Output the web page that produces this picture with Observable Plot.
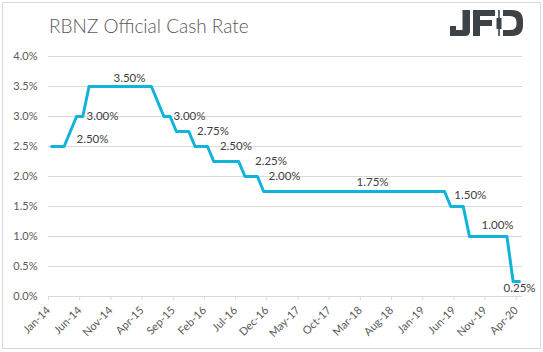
<!DOCTYPE html>
<html>
<head>
<meta charset="utf-8">
<script src="https://cdn.jsdelivr.net/npm/d3@7"></script>
<script src="https://cdn.jsdelivr.net/npm/@observablehq/plot@0.6"></script>
<style>
  html, body { margin: 0; padding: 0; background: #fff; }
  #wrap { position: relative; width: 543px; height: 352px; overflow: hidden; font-family: Lato, "Open Sans", sans-serif; }
  #frame { position: absolute; left: 2px; top: 2px; width: 537px; height: 345px; border: 1px solid #d9d9d9; pointer-events: none; }
  #title { position: absolute; left: 49px; top: 14px; font-size: 19px; font-weight: 300; color: #595959; line-height: 24px; white-space: nowrap; }
  #logo { position: absolute; left: 440px; top: 4px; }
  #chart { position: absolute; left: 0; top: 0; }
</style>
</head>
<body>
<div id="wrap">
  <div id="chart"></div>
  <div id="title">RBNZ Official Cash Rate</div>
  <svg id="logo" width="90" height="40" viewBox="440 4 90 40" fill="#3d4247">
    <!-- J -->
    <path d="M462.5,10 H470 V31 Q470,36 465,36 H450 V26 H456 V30 H462.5 Z"/>
    <!-- F -->
    <path d="M473,10 H495 V16 H480 V20 H492 V26 H480 V36 H473 Z"/>
    <!-- D with candle -->
    <line x1="499" y1="10" x2="499" y2="36" stroke="#3d4247" stroke-width="1.6"/>
    <rect x="496.5" y="18" width="5" height="11"/>
    <path d="M503,10 H512 Q523,10 523,21 V25 Q523,36 512,36 H503 V30 H510 Q516.5,30 516.5,24 V22 Q516.5,16 510,16 H503 Z"/>
  </svg>
  <div id="frame"></div>
</div>
<script>
// Monthly RBNZ OCR, Jan-14 ... Apr-20 (one value per month)
const rates = [
  2.50, 2.50, 2.50, 2.75, 3.00, 3.00,                   // Jan-14 .. Jun-14
  3.50, 3.50, 3.50, 3.50, 3.50, 3.50,                   // Jul-14 .. Dec-14
  3.50, 3.50, 3.50, 3.50, 3.50, 3.25,                   // Jan-15 .. Jun-15
  3.00, 3.00, 2.75, 2.75, 2.75, 2.50,                   // Jul-15 .. Dec-15
  2.50, 2.50, 2.25, 2.25, 2.25, 2.25,                   // Jan-16 .. Jun-16
  2.25, 2.00, 2.00, 2.00, 1.75, 1.75,                   // Jul-16 .. Dec-16
  1.75, 1.75, 1.75, 1.75, 1.75, 1.75,                   // 2017 H1
  1.75, 1.75, 1.75, 1.75, 1.75, 1.75,                   // 2017 H2
  1.75, 1.75, 1.75, 1.75, 1.75, 1.75,                   // 2018 H1
  1.75, 1.75, 1.75, 1.75, 1.75, 1.75,                   // 2018 H2
  1.75, 1.75, 1.75, 1.75, 1.50, 1.50,                   // Jan-19 .. Jun-19
  1.50, 1.00, 1.00, 1.00, 1.00, 1.00,                   // Jul-19 .. Dec-19
  1.00, 1.00, 0.25, 0.25                                // Jan-20 .. Apr-20
];

// X tick labels (every 5 months) and their month index from Jan-14
const tickLabels = ["Jan-14","Jun-14","Nov-14","Apr-15","Sep-15","Feb-16","Jul-16","Dec-16",
                    "May-17","Oct-17","Mar-18","Aug-18","Jan-19","Jun-19","Nov-19","Apr-20"];
const tickMonths = [0,5,10,15,20,25,30,35,40,45,50,55,60,65,70,75];

// Y ticks
const yTicks = [0, 0.5, 1, 1.5, 2, 2.5, 3, 3.5, 4];

// Data labels: text, and anchor in data space (month index, rate)
const labelTexts  = ["2.50%","3.00%","3.50%","3.00%","2.75%","2.50%","2.25%","2.00%","1.75%","1.50%","1.00%","0.25%"];
const labelMonths = [7.06, 8.66, 12.99, 22.61, 26.37, 30.05, 35.67, 37.85, 51.96, 67.63, 72.0, 75.53];
const labelRates  = [2.62, 3.00, 3.64, 3.00, 2.76, 2.50, 2.26, 2.00, 1.90, 1.68, 1.18, 0.14];

const series = rates.map((r, i) => ({month: i + 0.5, rate: r}));  // points sit between tick marks
const labels = labelTexts.map((t, i) => ({text: t, month: labelMonths[i], rate: labelRates[i]}));

const grid = "#d9d9d9";
const textColor = "#595959";

const chart = Plot.plot({
  width: 543,
  height: 352,
  marginLeft: 48,
  marginRight: 21,
  marginTop: 56,
  marginBottom: 56,
  style: {fontFamily: "Lato, 'Open Sans', sans-serif", fontSize: "11px", background: "transparent", overflow: "visible"},
  x: {domain: [0, rates.length], axis: null},
  y: {domain: [0, 4], axis: null},
  marks: [
    Plot.ruleY(yTicks, {stroke: grid, strokeWidth: 1}),
    Plot.axisY({ticks: yTicks, tickSize: 0, tickPadding: 11, label: null, tickFormat: d => d.toFixed(1) + "%", fill: textColor, fontSize: 11}),
    Plot.axisX({ticks: tickMonths, tickSize: 4, label: null, tickFormat: () => "", stroke: grid}),
    Plot.axisX({ticks: tickMonths, tickSize: 0, tickPadding: 12, tickRotate: -45, label: null,
                tickFormat: (d, i) => tickLabels[i], fill: textColor, fontSize: 11}),
    Plot.line(series, {x: "month", y: "rate", stroke: "#10b3da", strokeWidth: 3, strokeLinejoin: "round"}),
    Plot.text(labels, {x: "month", y: "rate", text: "text", fill: "#404040", fontSize: 11.5})
  ]
});
document.getElementById("chart").appendChild(chart);
</script>
</body>
</html>
